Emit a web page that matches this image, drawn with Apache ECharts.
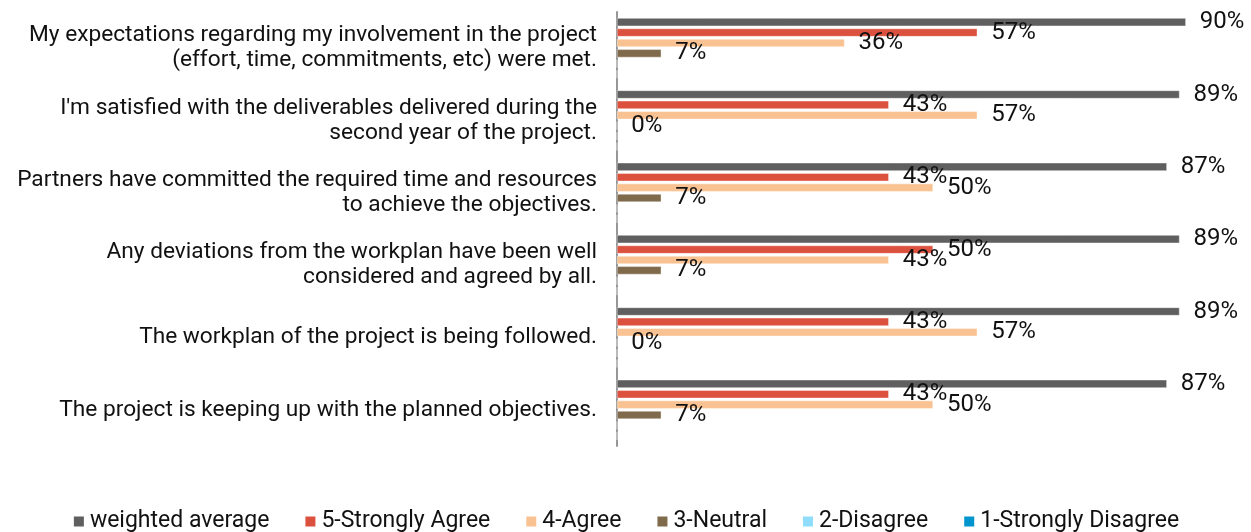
<!DOCTYPE html>
<html>
<head>
<meta charset="utf-8">
<script src="https://cdn.jsdelivr.net/npm/echarts@6/dist/echarts.min.js"></script>
<style>
  html, body { margin: 0; padding: 0; background: #fff; }
  #chart { width: 1251px; height: 532px; }
</style>
</head>
<body>
<div id="chart"></div>
<script>
'use strict';

// survey statements (top to bottom)
var categories = [
    'My expectations regarding my involvement in the project\n(effort, time, commitments, etc) were met.',
    'I\'m satisfied with the deliverables delivered during the\nsecond year of the project.',
    'Partners have committed the required time and resources\nto achieve the objectives.',
    'Any deviations from the workplan have been well\nconsidered and agreed by all.',
    'The workplan of the project is being followed.',
    'The project is keeping up with the planned objectives.'
];

// percentages
var weightedAverage = [90, 89, 87, 89, 89, 87];
var stronglyAgree = [57, 43, 43, 50, 43, 43];
var agree = [36, 57, 50, 43, 57, 50];
var neutral = [7, 0, 7, 7, 0, 7];
var disagree = [0, 0, 0, 0, 0, 0];
var stronglyDisagree = [0, 0, 0, 0, 0, 0];

var seriesNames = ['weighted average', '5-Strongly Agree', '4-Agree', '3-Neutral', '2-Disagree', '1-Strongly Disagree'];
var seriesData = [weightedAverage, stronglyAgree, agree, neutral, disagree, stronglyDisagree];
var colors = ['#5f5f5f', '#dc513e', '#f9c292', '#7f6a4c', '#8fdcfb', '#0095cc'];
var showLabel = [true, true, true, true, false, false];

var textFont = 'Roboto';

var chart = echarts.init(document.getElementById('chart'));

var series = seriesNames.map(function (name, i) {
    return {
        name: name,
        type: 'bar',
        data: seriesData[i],
        barWidth: 8,
        barGap: '30%',
        itemStyle: { color: colors[i], borderColor: '#fff', borderWidth: 0.4 },
        label: {
            show: showLabel[i],
            position: 'right',
            distance: 14,
            formatter: '{c}%',
            color: '#111',
            fontFamily: textFont,
            fontSize: 24
        }
    };
});

var option = {
    animation: false,
    color: colors,
    grid: { left: 617, right: 2, top: 12, bottom: 86, containLabel: false },
    legend: {
        top: 505,
        left: 'center',
        itemWidth: 12,
        itemHeight: 12,
        itemGap: 34,
        icon: 'rect',
        textStyle: { fontFamily: textFont, fontSize: 23, color: '#111' },
        data: seriesNames
    },
    xAxis: {
        type: 'value',
        min: 0,
        max: 100,
        show: false,
        splitLine: { show: false }
    },
    yAxis: {
        type: 'category',
        inverse: true,
        data: categories,
        axisLine: { show: true, lineStyle: { color: '#8c8c8c', width: 1.8 } },
        axisTick: { show: false },
        axisLabel: {
            margin: 20,
            align: 'right',
            fontFamily: textFont,
            fontSize: 22.7,
            lineHeight: 25,
            color: '#111'
        }
    },
    series: series
};

chart.setOption(option);
</script>
</body>
</html>
